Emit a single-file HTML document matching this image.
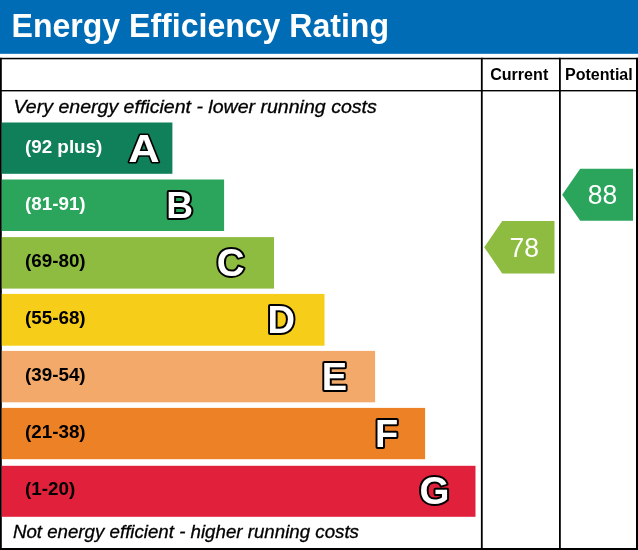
<!DOCTYPE html>
<html>
<head>
<meta charset="utf-8">
<title>Energy Efficiency Rating</title>
<style>
html,body{margin:0;padding:0;background:#fff;}
body{width:638px;height:550px;overflow:hidden;font-family:"Liberation Sans",sans-serif;}
svg{display:block;will-change:transform;}
text{font-family:"Liberation Sans",sans-serif;}
</style>
</head>
<body>
<svg width="638" height="550" viewBox="0 0 638 550">
<rect x="0" y="0" width="638" height="550" fill="#fff"/>
<rect x="0" y="0" width="638" height="53.8" fill="#006cb5"/>
<text transform="translate(11.55,37.05) scale(1.0016,1.04)" font-size="32" font-weight="bold" fill="#fff">Energy Efficiency Rating</text>
<g fill="#000">
<rect x="0" y="57.8" width="638" height="1.5"/>
<rect x="0" y="90.0" width="638" height="1.4"/>
<rect x="0" y="548" width="638" height="2"/>
<rect x="0" y="57.8" width="1.8" height="492.2"/>
<rect x="636" y="57.8" width="2" height="492.2"/>
<rect x="480.9" y="57.8" width="1.8" height="492.2"/>
<rect x="559.0" y="57.8" width="1.8" height="492.2"/>
</g>
<text transform="translate(490.15,79.8) scale(1,1.03)" font-size="16.1" font-weight="bold" fill="#000">Current</text>
<text transform="translate(565.0,79.8) scale(1,1.03)" font-size="16.05" font-weight="bold" fill="#000">Potential</text>
<text transform="translate(13.5,112.7) scale(1.0688,1.015)" font-size="18.3" font-style="italic" fill="#000" stroke="#000" stroke-width="0.3">Very energy efficient - lower running costs</text>
<text transform="translate(12.9,538.2) scale(1.022,1.023)" font-size="18.3" font-style="italic" fill="#000" stroke="#000" stroke-width="0.3">Not energy efficient - higher running costs</text>
<rect x="1.8" y="122.5" width="170.60" height="51.30" fill="#10805a"/>
<rect x="1.8" y="179.5" width="222.30" height="51.50" fill="#2ba55c"/>
<rect x="1.8" y="237.1" width="272.20" height="51.50" fill="#8dbc41"/>
<rect x="1.8" y="293.9" width="322.70" height="51.80" fill="#f6cd18"/>
<rect x="1.8" y="350.9" width="373.30" height="51.40" fill="#f2a96a"/>
<rect x="1.8" y="407.9" width="423.30" height="51.30" fill="#ed8125"/>
<rect x="1.8" y="465.8" width="473.70" height="51.00" fill="#e1203c"/>
<text transform="translate(24.9,153.00) scale(1,1.0)" font-size="18.85" font-weight="bold" fill="#fff">(92 plus)</text>
<text transform="translate(24.9,210.00) scale(1,1.0)" font-size="18.85" font-weight="bold" fill="#fff">(81-91)</text>
<text transform="translate(24.9,267.00) scale(1,1.0)" font-size="18.85" font-weight="bold" fill="#000">(69-80)</text>
<text transform="translate(24.9,324.00) scale(1,1.0)" font-size="18.85" font-weight="bold" fill="#000">(55-68)</text>
<text transform="translate(24.9,381.00) scale(1,1.0)" font-size="18.85" font-weight="bold" fill="#000">(39-54)</text>
<text transform="translate(24.9,438.00) scale(1,1.0)" font-size="18.85" font-weight="bold" fill="#000">(21-38)</text>
<text transform="translate(24.9,495.00) scale(1,1.0)" font-size="18.85" font-weight="bold" fill="#000">(1-20)</text>
<polygon points="562.2,194.7 580.2,168.7 633,168.7 633,220.8 580.2,220.8" fill="#2ba55c"/>
<polygon points="484.2,247.2 502.2,221 554.5,221 554.5,273.4 502.2,273.4" fill="#8dbc41"/>
<text transform="translate(602.5,204.3) scale(1,1.05)" font-size="26.5" fill="#fff" text-anchor="middle">88</text>
<text transform="translate(524.3,257) scale(1,1.05)" font-size="26.5" fill="#fff" text-anchor="middle">78</text>
<g stroke-linejoin="round" font-weight="bold" fill="#fff" stroke="#000" paint-order="stroke">
<text transform="translate(128.15,161.5) scale(1.1,1)" font-size="39.5" stroke-width="3.2">A</text>
<text x="166.3" y="217.5" font-size="37.2" stroke-width="4">B</text>
<text x="216.7" y="276" font-size="38.5" stroke-width="4">C</text>
<text x="267.6" y="333.45" font-size="38.2" stroke-width="4">D</text>
<text x="321.7" y="389.5" font-size="38" stroke-width="4">E</text>
<text x="375.1" y="447" font-size="38" stroke-width="4">F</text>
<text x="419.5" y="504.2" font-size="38.5" stroke-width="4">G</text>
</g>
</svg>
</body>
</html>
